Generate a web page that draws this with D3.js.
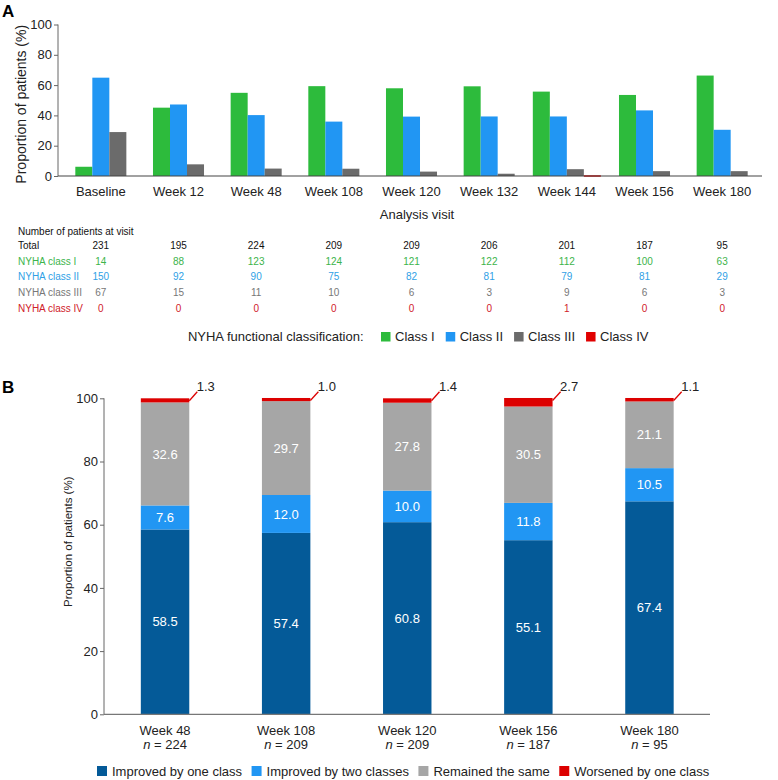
<!DOCTYPE html>
<html>
<head>
<meta charset="utf-8">
<script src="https://cdn.jsdelivr.net/npm/d3@7"></script>
<style>
body{margin:0;background:#fff;}
svg{display:block;font-family:"Liberation Sans",Arial,sans-serif;}
</style>
</head>
<body>
<svg id="chart" width="778" height="780"></svg>
<script>
// ---------- Panel A data ----------
const visitsA = ["Baseline","Week 12","Week 48","Week 108","Week 120","Week 132","Week 144","Week 156","Week 180"];
const totalN  = [231,195,224,209,209,206,201,187,95];
const class1N = [14,88,123,124,121,122,112,100,63];
const class2N = [150,92,90,75,82,81,79,81,29];
const class3N = [67,15,11,10,6,3,9,6,3];
const class4N = [0,0,0,0,0,0,1,0,0];
const class1Pct = [6.1,45.1,54.9,59.3,57.9,59.2,55.7,53.5,66.3];
const class2Pct = [64.9,47.2,40.2,35.9,39.2,39.3,39.3,43.3,30.5];
const class3Pct = [29.0,7.7,4.9,4.8,2.9,1.5,4.5,3.2,3.2];
const class4Pct = [0,0,0,0,0,0,0.5,0,0];
const classNames = ["Class I","Class II","Class III","Class IV"];
const ticksA = [0,20,40,60,80,100];

// ---------- Panel B data ----------
const visitsB = ["Week 48","Week 108","Week 120","Week 156","Week 180"];
const nB = [224,209,209,187,95];
const improvedOne = [58.5,57.4,60.8,55.1,67.4];
const improvedTwo = [7.6,12.0,10.0,11.8,10.5];
const remained    = [32.6,29.7,27.8,30.5,21.1];
const worsened    = [1.3,1.0,1.4,2.7,1.1];
const changeNames = ["Improved by one class","Improved by two classes","Remained the same","Worsened by one class"];
const ticksB = [0,20,40,60,80,100];

// ---------- styles ----------
const colA = ["#2dbb3c","#2196f3","#6b6b6b","#e00000"];
const colTable = ["#111","#3cb44b","#2f9fe6","#777","#d0202a"];
const colB = ["#045a98","#2196f3","#a6a6a6","#dc0000"];
const axisCol = "#666";

const svg = d3.select("#chart");

// ================= PANEL A =================
const xA = d3.scaleBand().domain(visitsA).range([62,761]).padding(0);
const yA = d3.scaleLinear().domain([0,100]).range([176,24.5]);
const barW = xA.step()*0.219;

svg.append("text").attr("x",2).attr("y",17).attr("font-size",17).attr("font-weight","bold").text("A");

const gA = svg.append("g");
// y axis
const yAxisA = gA.append("g").attr("transform","translate(58,0)")
  .call(d3.axisLeft(yA).tickValues(ticksA).tickSize(4).tickPadding(2).tickFormat(d3.format("d")));
yAxisA.select(".domain").attr("stroke",axisCol).attr("d",`M0,${yA(100)}V${yA(0)}`);
yAxisA.selectAll(".tick line").attr("stroke",axisCol);
yAxisA.selectAll(".tick text").attr("font-size",13).attr("fill","#222").attr("font-family","Liberation Sans, Arial, sans-serif");

svg.append("text").attr("transform",`translate(26,${(yA(0)+yA(100))/2+4}) rotate(-90)`)
  .attr("text-anchor","middle").attr("font-size",14).attr("fill","#222").text("Proportion of patients (%)");

// bars
const seriesPct = [class1Pct,class2Pct,class3Pct,class4Pct];
const seriesN = [class1N,class2N,class3N,class4N];
visitsA.forEach((v,i)=>{
  const present = [0,1,2,3].filter(s=>seriesN[s][i]>0);
  const cx = xA(v)+xA.bandwidth()/2;
  const start = cx - present.length*barW/2;
  present.forEach((s,j)=>{
    const val = seriesPct[s][i];
    gA.append("rect")
      .attr("x",start+j*barW).attr("width",barW)
      .attr("y",yA(val)).attr("height",Math.max(yA(0)-yA(val),1.5))
      .attr("fill",colA[s]);
  });
});

// x axis
const xAxisA = gA.append("g").attr("transform",`translate(0,${yA(0)})`)
  .call(d3.axisBottom(xA).tickSize(0).tickPadding(11));
xAxisA.select(".domain").attr("stroke","#444").attr("stroke-width",1.2).attr("d","M58,0H762");
xAxisA.selectAll(".tick text").attr("font-size",13).attr("fill","#222").attr("font-family","Liberation Sans, Arial, sans-serif");

svg.append("text").attr("x",417).attr("y",218.5).attr("text-anchor","middle").attr("font-size",13).attr("fill","#222").text("Analysis visit");

// table
svg.append("text").attr("x",18).attr("y",235).attr("font-size",10).attr("fill","#111").text("Number of patients at visit");
const rowLabels = ["Total","NYHA class I","NYHA class II","NYHA class III","NYHA class IV"];
const rowData = [totalN,class1N,class2N,class3N,class4N];
const rowY = [249,264.6,280.3,296,311.6];
rowLabels.forEach((lab,r)=>{
  svg.append("text").attr("x",18).attr("y",rowY[r]).attr("font-size",10).attr("fill",colTable[r]).text(lab);
  svg.append("g").selectAll("text").data(rowData[r]).join("text")
    .attr("x",(d,i)=>xA(visitsA[i])+xA.bandwidth()/2)
    .attr("y",rowY[r]).attr("text-anchor","middle").attr("font-size",10).attr("fill",colTable[r])
    .text(d=>d);
});

// legend A
svg.append("text").attr("x",363.5).attr("y",341.3).attr("text-anchor","end").attr("font-size",13).attr("fill","#222").text("NYHA functional classification:");
const legA = svg.append("g");
let lx = 381;
classNames.forEach((c,i)=>{
  legA.append("rect").attr("x",lx).attr("y",332).attr("width",9.5).attr("height",9.5).attr("fill",colA[i]);
  const t = legA.append("text").attr("x",lx+14).attr("y",341.3).attr("font-size",13).attr("fill","#222").text(c);
  lx += 14 + t.node().getComputedTextLength() + 11;
});

// ================= PANEL B =================
svg.append("text").attr("x",2).attr("y",393).attr("font-size",17).attr("font-weight","bold").text("B");

const xB = d3.scaleBand().domain(visitsB).range([104.5,710]).paddingInner(0.6).paddingOuter(0.3);
const yB = d3.scaleLinear().domain([0,100]).range([714.3,398.3]);

const gB = svg.append("g");
const yAxisB = gB.append("g").attr("transform","translate(104,0)")
  .call(d3.axisLeft(yB).tickValues(ticksB).tickSize(4).tickPadding(2).tickFormat(d3.format("d")));
yAxisB.select(".domain").attr("stroke",axisCol).attr("d",`M0,${yB(100)}V${yB(0)}`);
yAxisB.selectAll(".tick line").attr("stroke",axisCol);
yAxisB.selectAll(".tick text").attr("font-size",13).attr("fill","#222").attr("font-family","Liberation Sans, Arial, sans-serif");

svg.append("text").attr("transform",`translate(72,541.7) rotate(-90)`)
  .attr("text-anchor","middle").attr("font-size",11.5).attr("fill","#222").text("Proportion of patients (%)");

const tableB = visitsB.map((v,i)=>({visit:v,a:improvedOne[i],b:improvedTwo[i],c:remained[i],d:worsened[i]}));
const keys = ["a","b","c","d"];
const stacked = d3.stack().keys(keys)(tableB);
const fmt = d3.format(".1f");

stacked.forEach((layer,k)=>{
  gB.append("g").selectAll("rect").data(layer).join("rect")
    .attr("x",d=>xB(d.data.visit)).attr("width",xB.bandwidth())
    .attr("y",d=>yB(d[1])).attr("height",d=>yB(d[0])-yB(d[1]))
    .attr("fill",colB[k]);
  if(k<3){
    gB.append("g").selectAll("text").data(layer).join("text")
      .attr("x",d=>xB(d.data.visit)+xB.bandwidth()/2)
      .attr("y",d=>(yB(d[0])+yB(d[1]))/2+4.6)
      .attr("text-anchor","middle").attr("font-size",13).attr("fill","#fff")
      .text(d=>fmt(d[1]-d[0]));
  } else {
    const lab = gB.append("g");
    layer.forEach(d=>{
      const xr = xB(d.data.visit)+xB.bandwidth();
      const y0 = yB(d[1])+2.5;
      lab.append("line").attr("x1",xr).attr("y1",y0).attr("x2",xr+8).attr("y2",yB(100)-6.5)
        .attr("stroke",colB[3]).attr("stroke-width",1.3);
      lab.append("text").attr("x",xr+7.5).attr("y",yB(100)-7.2).attr("font-size",13).attr("fill","#222")
        .text(fmt(d[1]-d[0]));
    });
  }
});

const xAxisB = gB.append("g").attr("transform",`translate(0,${yB(0)})`)
  .call(d3.axisBottom(xB).tickSize(0).tickFormat(()=>""));
xAxisB.select(".domain").attr("stroke","#777").attr("stroke-width",1.2).attr("d","M104,0H710");
xAxisB.selectAll(".tick").each(function(v,i){
  const t = d3.select(this);
  t.append("text").attr("y",20.5).attr("text-anchor","middle").attr("font-size",13).attr("fill","#222")
    .attr("font-family","Liberation Sans, Arial, sans-serif").text(v);
  const n = t.append("text").attr("y",35).attr("text-anchor","middle").attr("font-size",13).attr("fill","#222")
    .attr("font-family","Liberation Sans, Arial, sans-serif");
  n.append("tspan").attr("font-style","italic").text("n");
  n.append("tspan").text(" = "+nB[visitsB.indexOf(v)]);
});

// legend B
const legB = svg.append("g");
let bx = 97;
changeNames.forEach((c,i)=>{
  legB.append("rect").attr("x",bx).attr("y",766).attr("width",10).attr("height",10).attr("fill",colB[i]);
  const t = legB.append("text").attr("x",bx+15).attr("y",775.5).attr("font-size",13).attr("fill","#222").text(c);
  bx += 15 + t.node().getComputedTextLength() + 9.5;
});
</script>
</body>
</html>
